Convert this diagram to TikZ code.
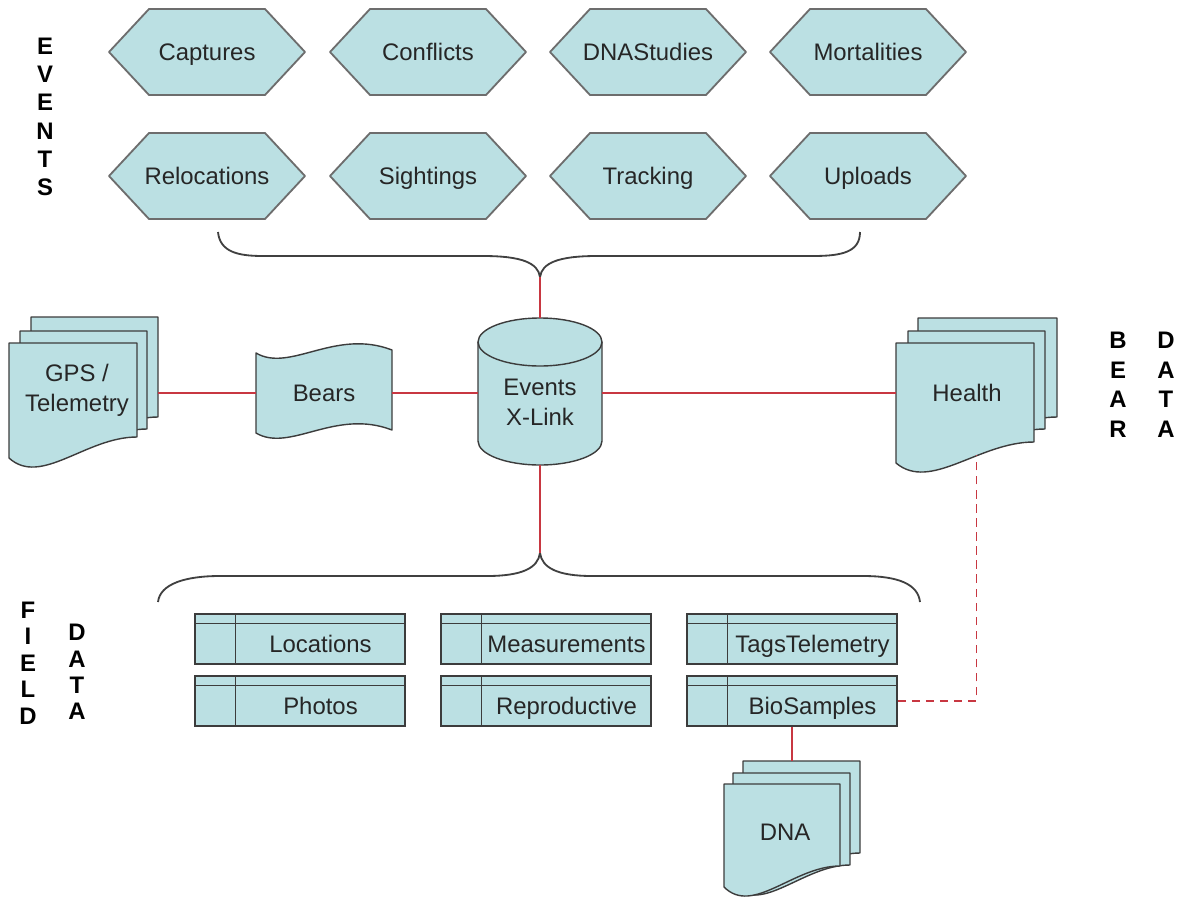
\documentclass[tikz,border=0pt]{standalone}
\usepackage{fontspec}
\setmainfont{Liberation Sans}

\definecolor{shapefill}{RGB}{187,224,227}
\definecolor{edgegray}{RGB}{60,60,60}
\definecolor{linkred}{RGB}{200,55,65}

% one page of a document stack: x, y, width, height of right side
\newcommand{\docpage}[4]{%
  \draw[page] (#1,#2) -- (#1+#3,#2) -- (#1+#3,#2+#4)
    .. controls (#1+0.6*#3,#2+#4) and (#1+0.25*#3,#2+#4+50) .. (#1,#2+#4+21) -- cycle;}

\tikzset{
  hexa/.style={draw=edgegray!75, line width=1.3pt, fill=shapefill, line join=round},
  page/.style={draw=edgegray, line width=1pt, fill=shapefill, line join=round},
  tbl/.style={draw=edgegray, line width=1pt, fill=shapefill, minimum width=5.25cm, minimum height=1.25cm, inner sep=0pt},
  tblline/.style={draw=edgegray, line width=1pt},
  lbl/.style={font=\fontsize{17}{21.5}\selectfont, text=black!85, align=center, inner sep=0pt},
  one/.style={lbl, text height=12.2pt, text depth=0pt},
  side/.style={font=\bfseries\fontsize{17}{#1}\selectfont, align=center, inner sep=0pt},
  hold/.style={inner sep=0pt, draw=none},
  link/.style={draw=linkred, line width=1pt},
  brace/.style={draw=black!75, line width=1.3pt},
}

\begin{document}
\begin{tikzpicture}[x=0.025cm, y=-0.025cm]
\useasboundingbox (0,0) rectangle (1180,897);

% event shapes
\foreach \nm/\x/\y/\txt in {cap/207/52/Captures, conf/428/52/Conflicts, dnas/648/52/DNAStudies, mort/868/52/Mortalities,
    reloc/207/176/Relocations, sight/428/176/Sightings, track/648/176/Tracking, upl/868/176/Uploads}{
  \draw[hexa] (\x-98,\y) -- (\x-58,\y-43) -- (\x+58,\y-43) -- (\x+98,\y) -- (\x+58,\y+43) -- (\x-58,\y+43) -- cycle;
  \node[one] (\nm) at (\x,\y) {\txt};
}

% side titles
\node[side=20.1pt] (events) at (45,117) {E\\V\\E\\N\\T\\S};
\node[side=21pt] (bearlbl) at (1118,385) {B\\E\\A\\R};
\node[side=21pt] (beardata) at (1166,385) {D\\A\\T\\A};
\node[side=18.8pt] (fieldlbl) at (28,663) {F\\I\\E\\L\\D};
\node[side=18.8pt] (fielddata) at (77,672) {D\\A\\T\\A};

% braces
\coordinate (uptip) at (540,277);
\draw[brace] (218,232) .. controls (220,252) and (238,256) .. (263,256) -- (483,256)
  .. controls (522,256) and (538,263) .. (uptip)
  .. controls (542,263) and (558,256) .. (597,256) -- (813,256)
  .. controls (842,256) and (860,252) .. (860,232);
\coordinate (lowtip) at (540,553);
\draw[brace] (158,602) .. controls (160,584) and (185,576) .. (220,576) -- (487,576)
  .. controls (522,576) and (538,568) .. (lowtip)
  .. controls (542,568) and (558,576) .. (592,576) -- (863,576)
  .. controls (898,576) and (918,584) .. (920,602);

% GPS stack
\docpage{31}{317}{127}{100}
\docpage{20}{331}{127}{98}
\docpage{9}{343}{128}{94}
\node[hold, minimum width=3.725cm, minimum height=3.5cm] (gps) at (83.5,393) {};
\node[lbl] (gps-t) at (77,390) {GPS /\\Telemetry};

% Bears tape
\draw[page] (256,353) .. controls (290,373) and (335,328) .. (392,350) -- (392,430)
  .. controls (335,408) and (290,453) .. (256,433) -- cycle;
\node[hold, one, minimum width=3.4cm, minimum height=2.25cm] (bears) at (324,393) {Bears};

% Events X-Link cylinder
\draw[page] (478,342) -- (478,441) arc[start angle=180, end angle=0, x radius=62, y radius=24]
  -- (602,342) arc[start angle=0, end angle=-180, x radius=62, y radius=24] -- cycle;
\draw[page, fill=none] (478,342) arc[start angle=180, end angle=0, x radius=62, y radius=24];
\node[hold, minimum width=3.1cm, minimum height=3.675cm] (xlink) at (540,391.5) {};
\node[lbl] (xlink-t) at (540,402) {Events\\X-Link};

% Health stack
\docpage{918}{318}{139}{99}
\docpage{908}{331}{137}{98}
\docpage{896}{343}{138}{99}
\node[hold, minimum width=4.025cm, minimum height=3.1cm] (health) at (976.5,393) {};
\node[one] (health-t) at (967,393) {Health};

% field tables
\foreach \nm/\x/\y/\txt in {loc/300/639/Locations, photo/300/701/Photos, meas/546/639/Measurements,
    repro/546/701/Reproductive, tags/792/639/TagsTelemetry, bio/792/701/BioSamples}{
  \node[tbl] (\nm) at (\x,\y) {};
  \draw[tblline] ([yshift=-0.25cm]\nm.north west) -- ([yshift=-0.25cm]\nm.north east);
  \draw[tblline] ([xshift=1.025cm]\nm.north west) -- ([xshift=1.025cm]\nm.south west);
  \node[one] (\nm-t) at (\x+20.5,\y+5) {\txt};
}

% DNA stack
\docpage{743}{761}{117}{92}
\docpage{733}{773}{117}{92}
\docpage{724}{784}{116}{82}
\node[hold, minimum width=3.4cm, minimum height=3.25cm] (dna) at (792,826) {};
\node[one] (dna-t) at (785,832) {DNA};

% links
\draw[link] (uptip) -- (xlink.north);
\draw[link] (xlink.south) -- (lowtip);
\draw[link] (gps.east) -- (bears.west);
\draw[link] (bears.east) -- (bears.east -| xlink.west);
\draw[link] (xlink.east |- health.west) -- (health.west);
\draw[link, line width=1.3pt, dash pattern=on 6pt off 4pt] (bio.east) -| (health.south);
\draw[link] (bio.south) -- (dna.north);
\end{tikzpicture}
\end{document}
